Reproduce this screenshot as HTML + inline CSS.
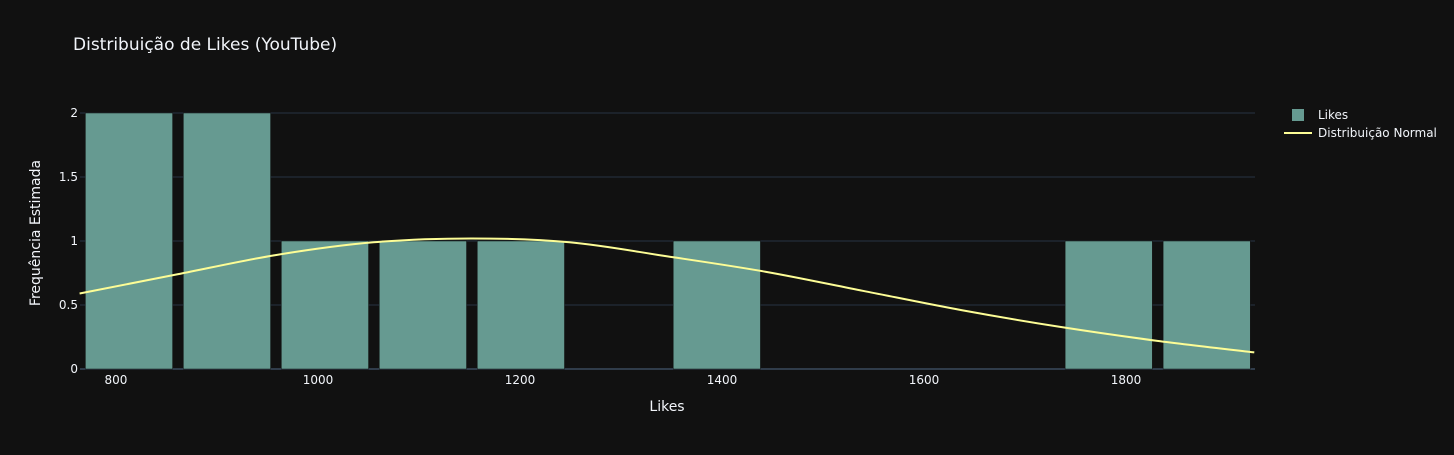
<!DOCTYPE html>
<html><head><meta charset="utf-8"><style>
body{margin:0;background:#111111;}
svg text{font-family:"DejaVu Sans","Liberation Sans",sans-serif;fill:#f2f5fa;}
</style></head><body>
<svg id="chart" width="1454" height="450" xmlns="http://www.w3.org/2000/svg">
<rect width="1454" height="450" fill="#111111"/>
<text x="73" y="50" font-size="17">Distribuição de Likes (YouTube)</text>
<g id="grid"></g><g id="bars"></g><g id="curve"></g><g id="ticks"></g>
<text x="667" y="411" font-size="14" text-anchor="middle">Likes</text>
<text transform="translate(40,233) rotate(-90)" font-size="14" text-anchor="middle">Frequência Estimada</text>
<g>
<rect x="1292" y="109" width="12" height="12" fill="#669a91"/>
<text x="1318" y="119" font-size="12">Likes</text>
<line x1="1284" y1="133" x2="1312" y2="133" stroke="#fdfd96" stroke-width="2"/>
<text x="1318" y="137" font-size="12">Distribuição Normal</text>
</g>
</svg>
<script>
const binStart = 764.4;
const binWidth = 97;
const counts = [2,2,1,1,1,0,1,0,0,0,1,1];
const curveX = [764,861,958,1055,1152,1249,1346,1443,1540,1637,1734,1831,1927];
const curveY = [0.59,0.74,0.89,0.99,1.02,0.99,0.88,0.76,0.61,0.46,0.33,0.22,0.13];
const xTicks = [800,1000,1200,1400,1600,1800];
const yTicks = [0,0.5,1,1.5,2];
const NS="http://www.w3.org/2000/svg";
const L=80,R=1255,T=113,B=369,xmin=764.4,xmax=1927.7,ymax=2;
const xs=v=>L+(v-xmin)/(xmax-xmin)*(R-L);
const ys=v=>B-v/ymax*(B-T);
function mk(tag,attrs,parent){const e=document.createElementNS(NS,tag);for(const k in attrs)e.setAttribute(k,attrs[k]);document.getElementById(parent).appendChild(e);return e;}
yTicks.forEach(t=>{
  const g=mk('line',{x1:L,x2:R,y1:ys(t),y2:ys(t),stroke:t===0?'#506784':'#283442','stroke-width':1},'grid');
  
  
  const tx=mk('text',{x:L-2,y:ys(t)+4,'font-size':12,'text-anchor':'end'},'ticks');
  tx.textContent=String(t);
  
  
});
xTicks.forEach(t=>{
  const tx=mk('text',{x:xs(t),y:384,'font-size':12,'text-anchor':'middle'},'ticks');
  tx.textContent=String(t);
  
  
});
counts.forEach((c,i)=>{
  const x0=xs(binStart+i*binWidth),x1=xs(binStart+(i+1)*binWidth);
  const w=x1-x0,pad=w*0.055;
  if(c<=0)return;
  const r=mk('rect',{x:x0+pad,y:ys(c),width:w-2*pad,height:ys(0)-ys(c),fill:'#669a91',stroke:'#111111','stroke-width':0.5},'bars');
  
  
});
const pts=curveX.map((x,i)=>[xs(x),ys(curveY[i])]);
let d='M'+pts[0][0]+','+pts[0][1];
for(let i=1;i<pts.length;i++){
  const p0=pts[i-2]||pts[i-1],p1=pts[i-1],p2=pts[i],p3=pts[i+1]||pts[i];
  const c1=[p1[0]+(p2[0]-p0[0])/6,p1[1]+(p2[1]-p0[1])/6],c2=[p2[0]-(p3[0]-p1[0])/6,p2[1]-(p3[1]-p1[1])/6];
  d+=' C'+c1+' '+c2+' '+p2;
}
const path=mk('path',{d:d,fill:'none',stroke:'#fdfd96','stroke-width':2},'curve');


</script>
</body></html>
